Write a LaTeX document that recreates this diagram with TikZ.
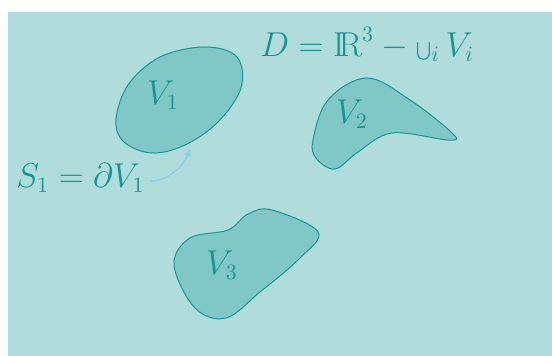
\documentclass[tikz,border=0pt]{standalone}
\usepackage{amssymb}
\usepackage{graphicx}
\usetikzlibrary{arrows.meta}
\definecolor{bgc}{RGB}{176,221,219}
\definecolor{blobc}{RGB}{127,200,198}
\definecolor{linec}{RGB}{20,150,148}
\definecolor{textc}{RGB}{20,150,146}
\definecolor{arrc}{RGB}{135,205,240}
\newcommand{\smallcup}{\mathop{\kern0pt\scalebox{0.56}{$\bigcup$}\kern0pt}\nolimits}
\tikzset{
  blob/.style={draw=linec, fill=blobc, line width=0.5pt},
  lbl/.style={text=textc, inner sep=0pt, font=\fontsize{16}{19}\selectfont},
}
\begin{document}
\begin{tikzpicture}[x=0.5pt,y=-0.5pt]
\useasboundingbox (0,0) rectangle (552,356);
\fill[bgc] (8,12) rectangle (552,356);
% V1
\draw[blob] plot[smooth cycle, tension=0.6] coordinates {(116,120) (128,85) (160,57) (205,47) (237,57) (241,88) (218,122) (185,145) (152,153) (124,142)};
% V2
\draw[blob] plot[smooth cycle, tension=0.6] coordinates {(313,140) (328,100) (367,78) (410,100) (453,134) (448,140) (392,133) (358,152) (335,169) (316,158)};
% V3
\draw[blob] plot[smooth cycle, tension=0.6] coordinates {(174,265) (190,238) (228,230) (248,214) (272,210) (318,232) (300,258) (260,292) (226,318) (195,308)};
\node[lbl] (v1) at (163,95) {$V_1$};
\node[lbl] (v2) at (352,114) {$V_2$};
\node[lbl] (v3) at (222,265) {$V_3$};
\node[lbl, anchor=base] (d) at (367,56.5) {$D=\mathrm{I\!R}^3-\smallcup_i V_i$};
\node[lbl, anchor=west] (s1) at (16,178) {$S_1=\partial V_1$};
\coordinate (t1) at (190,149);
\draw[arrc, line width=0.6pt, -{Stealth[length=4pt,width=3pt]}] (s1.east) ++(5,3) coordinate (a0) .. controls (165,182) and (183,168) .. (t1);
\end{tikzpicture}
\end{document}
